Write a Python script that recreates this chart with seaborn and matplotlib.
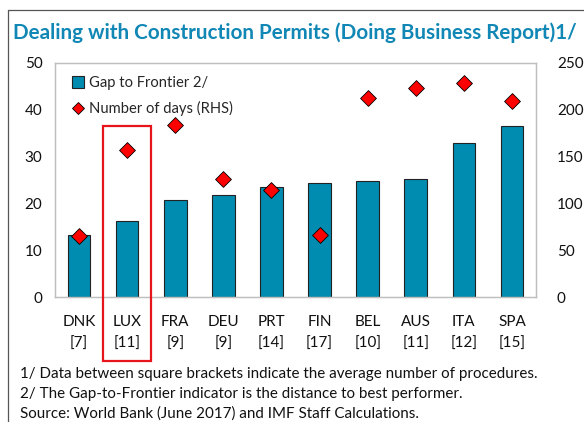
import matplotlib
matplotlib.use("Agg")
import matplotlib.pyplot as plt
import matplotlib.patches as patches
from matplotlib.lines import Line2D
import seaborn as sns
import numpy as np

# datos
paises = ["DNK", "LUX", "FRA", "DEU", "PRT", "FIN", "BEL", "AUS", "ITA", "SPA"]
procedimientos = ["7", "11", "9", "9", "14", "17", "10", "11", "12", "15"]
brecha_frontera = [13.2, 16.3, 20.8, 21.9, 23.5, 24.3, 24.7, 25.2, 32.8, 36.6]
numero_dias = [65, 157, 184, 126, 114, 66, 213, 223, 228, 209]

etiquetas = [f"{p}\n[{n}]" for p, n in zip(paises, procedimientos)]

sns.set_style("white")
plt.rcParams["font.family"] = ["Lato", "DejaVu Sans"]

azul = "#008bb0"
fig = plt.figure(figsize=(5.84, 4.22), dpi=100)
ax = fig.add_axes([0.094, 0.296, 0.824, 0.555])

sns.barplot(x=etiquetas, y=brecha_frontera, color=azul, width=0.47,
            edgecolor="#222222", linewidth=0.8, saturation=1, ax=ax)
ax.set_ylim(0, 50)
ax.set_yticks(range(0, 51, 10))
ax.set_xlim(-0.5, len(paises) - 0.5)

ax2 = ax.twinx()
sns.scatterplot(x=etiquetas, y=numero_dias, marker="D", s=65, color="#ff0000",
                edgecolor="black", linewidth=0.6, zorder=5, ax=ax2)
ax2.set_ylim(0, 250)
ax2.set_yticks(range(0, 251, 50))
ax2.set_xlim(-0.5, len(paises) - 0.5)

for a in (ax, ax2):
    for s in a.spines.values():
        s.set_color("#bfbfbf")
        s.set_linewidth(0.9)
    a.tick_params(axis="y", length=0, labelsize=11, colors="#111111")
ax.tick_params(axis="y", pad=9)
ax2.tick_params(axis="y", pad=15)
ax.tick_params(axis="x", length=0, labelsize=11, pad=13, colors="#111111")
ax.set_xticks(np.arange(len(paises)))
ax.set_xticklabels(etiquetas, linespacing=1.7)
ax.set_xticks(np.arange(-0.5, len(paises), 1), minor=True)
ax.tick_params(axis="x", which="minor", length=4, direction="in", color="#bfbfbf")

# leyenda
manejadores = [
    Line2D([], [], marker="s", linestyle="none", markersize=8.5, markerfacecolor=azul,
           markeredgecolor="#222222", markeredgewidth=0.8),
    Line2D([], [], marker="D", linestyle="none", markersize=6, markerfacecolor="#ff0000",
           markeredgecolor="black", markeredgewidth=0.6),
]
ax2.legend(manejadores, ["Gap to Frontier 2/", "Number of days (RHS)"], loc="upper left",
           bbox_to_anchor=(0.0, 1.0), frameon=False, fontsize=10.6, handletextpad=0.05,
           labelspacing=0.75, borderaxespad=0.5, handlelength=1.4)

# recuadro rojo alrededor de LUX
fig.patches.append(patches.Rectangle((103 / 584, 1 - 361 / 422), 48 / 584, 235 / 422,
                                     transform=fig.transFigure, fill=False,
                                     edgecolor="#e8141c", linewidth=1.6, clip_on=False))

# marco de la figura
fig.add_artist(Line2D([8 / 584, 8 / 584], [0, 1 - 10 / 422], transform=fig.transFigure,
                      color="#555555", linewidth=0.9))
fig.add_artist(Line2D([8 / 584, 1], [1 - 10 / 422, 1 - 10 / 422], transform=fig.transFigure,
                      color="#555555", linewidth=0.9))

fig.text(13 / 584, 1 - 33 / 422, "Dealing with Construction Permits (Doing Business Report)1/",
         fontsize=14.9, fontweight="bold", color="#1187b5", va="center", ha="left")

notas = ["1/ Data between square brackets indicate the average number of procedures.",
         "2/ The Gap-to-Frontier indicator is the distance to best performer.",
         "Source: World Bank (June 2017) and IMF Staff Calculations."]
for i, t in enumerate(notas):
    fig.text(20 / 584, 1 - (374 + i * 20) / 422, t, fontsize=10.9, color="#111111",
             va="center", ha="left")

fig.savefig("out.png", dpi=100)
